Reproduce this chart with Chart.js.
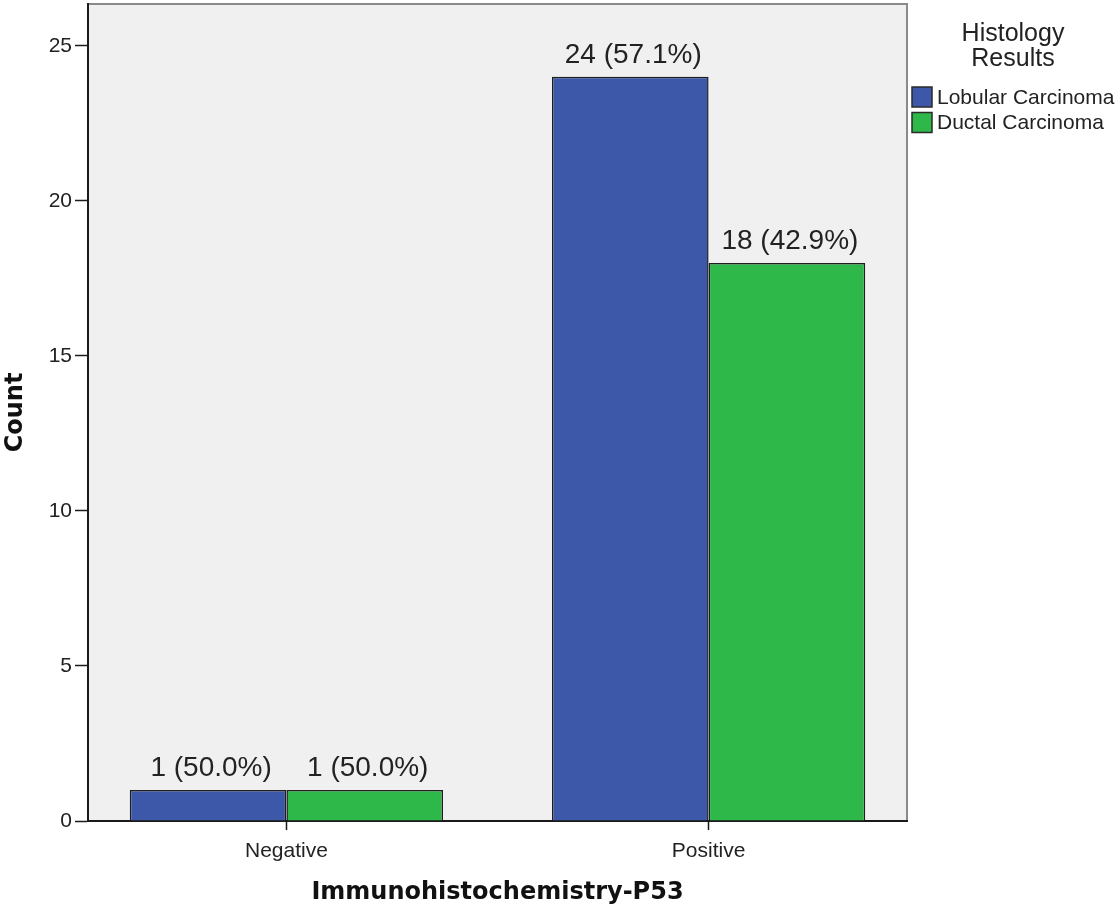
<!DOCTYPE html>
<html>
<head>
<meta charset="utf-8">
<script src="https://cdn.jsdelivr.net/npm/chart.js@4.4.1/dist/chart.umd.min.js"></script>
<style>
  html, body { margin: 0; padding: 0; background: #ffffff; }
  canvas { display: block; }
</style>
</head>
<body>
<canvas id="c" width="1115" height="910"></canvas>
<script>
// ---- data ----
const categories = ['Negative', 'Positive'];
const seriesNames = ['Lobular Carcinoma', 'Ductal Carcinoma'];
const lobularCounts = [1, 24];
const ductalCounts = [1, 18];
const lobularPercents = ['50.0%', '57.1%'];
const ductalPercents = ['50.0%', '42.9%'];
const yTickValues = [0, 5, 10, 15, 20, 25];
const legendTitle = ['Histology', 'Results'];
const xAxisTitle = 'Immunohistochemistry-P53';
const yAxisTitle = 'Count';

const BLUE = '#3d58a9';
const GREEN = '#2fb84a';
const TEXT = '#222222';

const toPoints = arr => arr.map((v, i) => ({ x: i, y: v }));

const plotBackground = {
  id: 'plotBackground',
  beforeDraw(chart) {
    const { ctx, chartArea: a } = chart;
    ctx.save();
    ctx.fillStyle = '#f0f0f0';
    ctx.fillRect(a.left, a.top, a.right - a.left, a.bottom - a.top);
    ctx.strokeStyle = '#8a8a8a';
    ctx.lineWidth = 2;
    ctx.beginPath();
    ctx.moveTo(a.left, a.top);
    ctx.lineTo(a.right, a.top);
    ctx.lineTo(a.right, a.bottom);
    ctx.stroke();
    ctx.restore();
  }
};

const barLabels = {
  id: 'barLabels',
  afterDatasetsDraw(chart) {
    const { ctx } = chart;
    const pcts = [lobularPercents, ductalPercents];
    ctx.save();
    ctx.font = '28px "Liberation Sans", Arial, sans-serif';
    ctx.fillStyle = TEXT;
    ctx.textAlign = 'center';
    ctx.textBaseline = 'alphabetic';
    chart.data.datasets.forEach((ds, di) => {
      const meta = chart.getDatasetMeta(di);
      meta.data.forEach((bar, i) => {
        const txt = ds.data[i].y + ' (' + pcts[di][i] + ')';
        ctx.fillText(txt, bar.x + 3, bar.y - 14);
      });
    });
    ctx.restore();
  }
};

const sideLegend = {
  id: 'sideLegend',
  afterDraw(chart) {
    const { ctx, chartArea: a } = chart;
    ctx.save();
    ctx.fillStyle = TEXT;
    ctx.font = '25px "Liberation Sans", Arial, sans-serif';
    ctx.textAlign = 'center';
    ctx.textBaseline = 'middle';
    const cx = a.right + 106;
    legendTitle.forEach((t, i) => ctx.fillText(t, cx, 34 + i * 25));
    ctx.font = '21px "Liberation Sans", Arial, sans-serif';
    ctx.textAlign = 'left';
    chart.data.datasets.forEach((ds, i) => {
      const y = 87 + i * 25.5;
      ctx.fillStyle = ds.backgroundColor;
      ctx.fillRect(a.right + 5, y, 20, 20);
      ctx.strokeStyle = '#2a2a2a';
      ctx.lineWidth = 1.5;
      ctx.strokeRect(a.right + 5, y, 20, 20);
      ctx.fillStyle = TEXT;
      ctx.fillText(ds.label, a.right + 30, y + 11);
    });
    ctx.restore();
  }
};

new Chart(document.getElementById('c'), {
  type: 'bar',
  data: {
    datasets: [
      { label: seriesNames[0], data: toPoints(lobularCounts), backgroundColor: BLUE, borderColor: '#1e1e1e', borderWidth: 1.5 },
      { label: seriesNames[1], data: toPoints(ductalCounts), backgroundColor: GREEN, borderColor: '#1e1e1e', borderWidth: 1.5 }
    ]
  },
  options: {
    responsive: false,
    animation: false,
    devicePixelRatio: 1,
    layout: { padding: { top: 4, right: 208, left: 0, bottom: 0 } },
    categoryPercentage: 0.742,
    barPercentage: 1.0,
    plugins: {
      legend: { display: false },
      tooltip: { enabled: false }
    },
    scales: {
      x: {
        type: 'linear',
        min: -0.47,
        max: 1.47,
        offset: false,
        afterBuildTicks: scale => {
          scale.ticks = categories.map((c, i) => ({ value: i }));
        },
        afterFit: scale => { scale.height = 89; scale.paddingLeft = 0; scale.paddingRight = 0; },
        ticks: {
          callback: v => categories[v] ?? '',
          color: TEXT,
          font: { family: '"Liberation Sans", Arial, sans-serif', size: 21 },
          padding: 9,
          maxRotation: 0,
          autoSkip: false
        },
        grid: { offset: false, drawOnChartArea: false, drawTicks: true, tickLength: 9, tickColor: '#1a1a1a', tickWidth: 1.5 },
        border: { display: true, color: '#1a1a1a', width: 2 },
        title: {
          display: true,
          text: xAxisTitle,
          color: '#111',
          font: { family: '"DejaVu Sans", sans-serif', size: 24, weight: 'bold' },
          padding: { top: 0, bottom: 3 }
        }
      },
      y: {
        type: 'linear',
        min: 0,
        max: 26.35,
        afterBuildTicks: scale => {
          scale.ticks = yTickValues.map(v => ({ value: v }));
        },
        afterFit: scale => { scale.width = 88; scale.paddingTop = 0; scale.paddingBottom = 0; },
        ticks: {
          color: TEXT,
          font: { family: '"Liberation Sans", Arial, sans-serif', size: 21 },
          padding: 3
        },
        grid: { drawOnChartArea: false, drawTicks: true, tickLength: 13, tickColor: '#1a1a1a', tickWidth: 1.5 },
        border: { display: true, color: '#1a1a1a', width: 2 },
        title: {
          display: true,
          text: yAxisTitle,
          color: '#111',
          font: { family: '"DejaVu Sans", sans-serif', size: 24, weight: 'bold' },
          padding: { top: 1, bottom: 0 }
        }
      }
    }
  },
  plugins: [plotBackground, barLabels, sideLegend]
});
</script>
</body>
</html>
